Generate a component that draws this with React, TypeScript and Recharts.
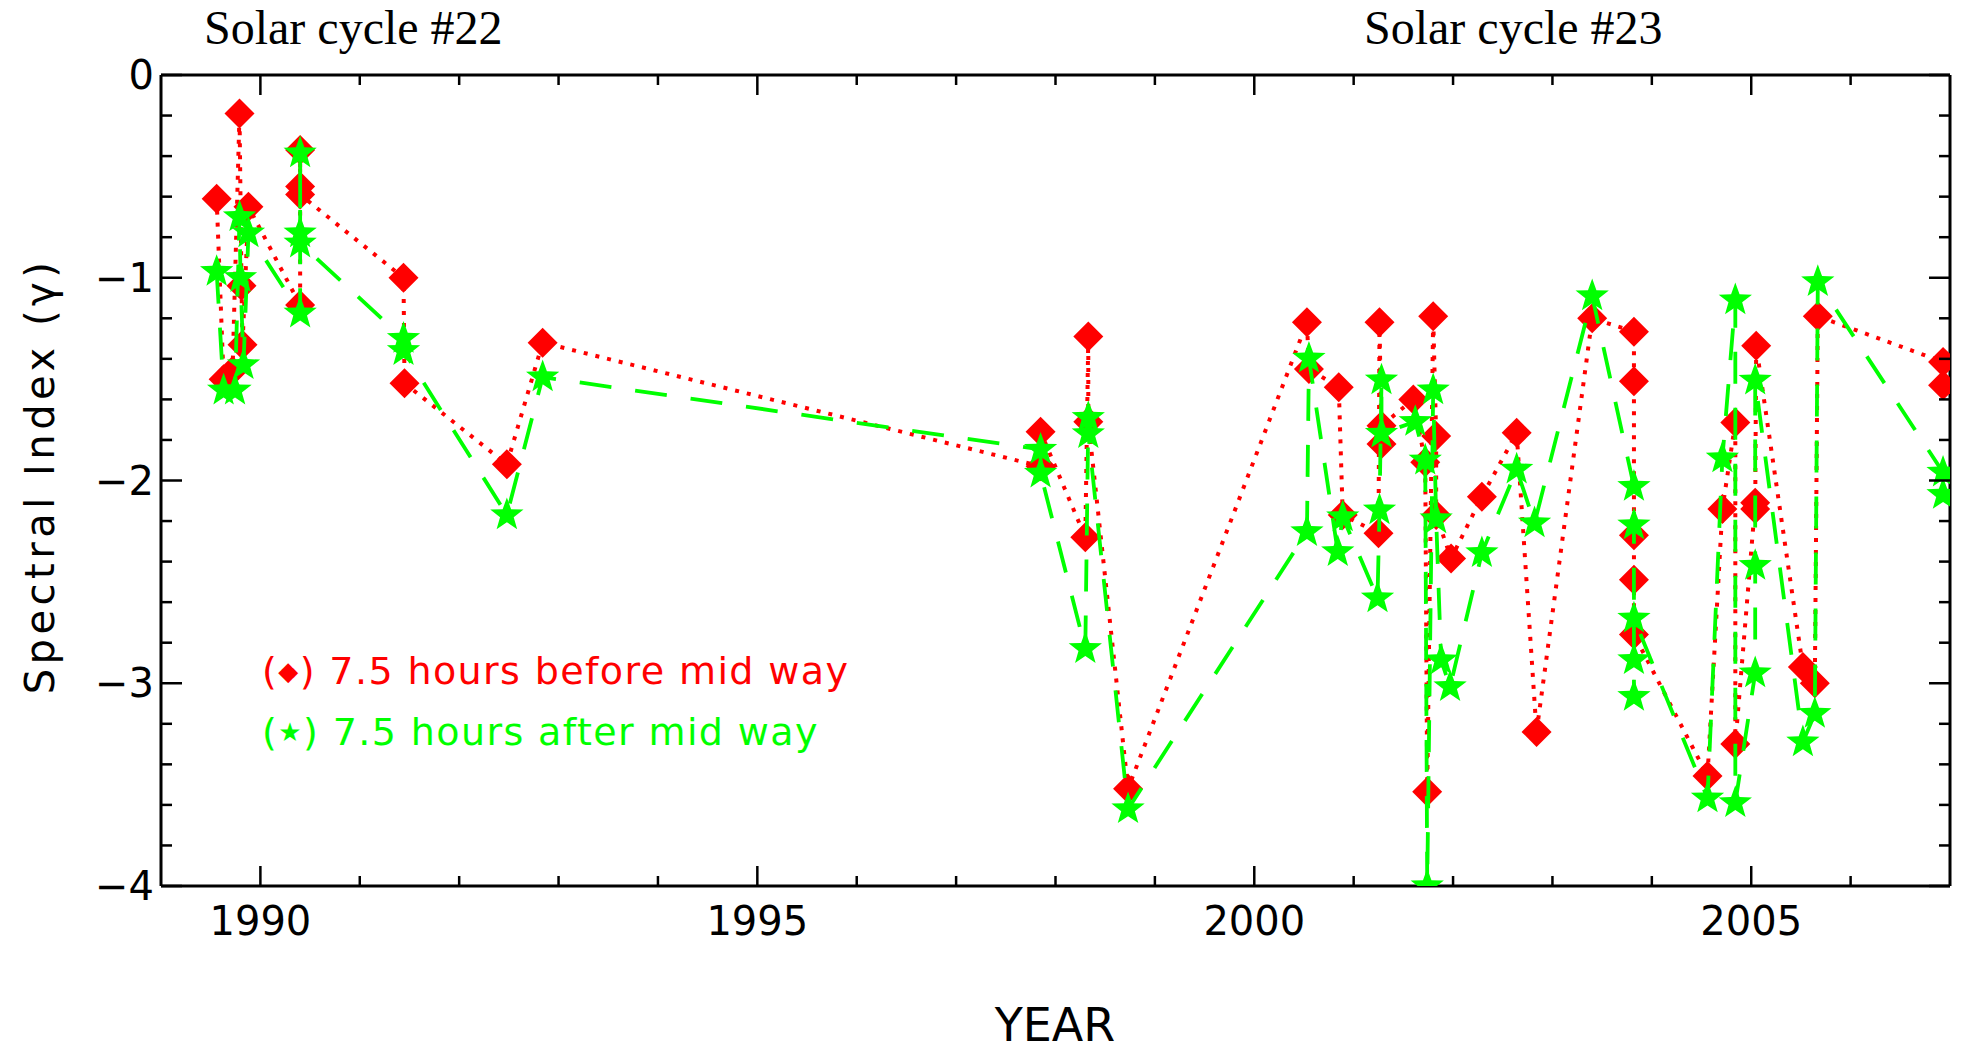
import React from 'react';
import { ScatterChart, Scatter, XAxis, YAxis } from 'recharts';

// ---- data: 7.5 hours before mid way (red diamonds), in plotting order ----
const beforeYears = [
  1989.56, 1989.63, 1989.72, 1989.79, 1989.81, 1989.82, 1989.88,
  1990.40, 1990.40, 1990.40, 1990.40, 1991.44, 1991.45, 1992.48, 1992.84,
  1997.85, 1997.85, 1998.30, 1998.33, 1998.33, 1998.73,
  2000.53, 2000.55, 2000.85, 2000.89, 2001.25, 2001.26, 2001.28, 2001.28,
  2001.60, 2001.72, 2001.74, 2001.80, 2001.83, 2001.83, 2001.98, 2002.29,
  2002.64, 2002.84,
  2003.40, 2003.82, 2003.82, 2003.82, 2003.82, 2003.82, 2004.56, 2004.71,
  2004.84, 2004.84, 2005.04, 2005.04, 2005.05, 2005.52, 2005.64, 2005.67,
  2006.93, 2006.93,
];
const beforeValues = [
  -0.61, -1.50, -1.46, -0.19, -1.04, -1.33, -0.65,
  -1.135, -0.37, -0.55, -0.59, -1.00, -1.52, -1.92, -1.32,
  -1.93, -1.76, -2.28, -1.29, -1.71, -3.52,
  -1.22, -1.45, -1.54, -2.17, -2.26, -1.22, -1.82, -1.73,
  -1.60, -1.91, -3.535, -1.19, -1.78, -2.17, -2.385, -2.08,
  -1.765, -3.24,
  -1.20, -1.266, -1.51, -2.27, -2.49, -2.76, -3.457, -2.14,
  -1.714, -3.30, -2.11, -2.14, -1.336, -2.92, -3.00, -1.19,
  -1.415, -1.53,
];

// ---- data: 7.5 hours after mid way (green stars), in plotting order ----
const afterYears = [
  1989.56, 1989.63, 1989.745, 1989.79, 1989.80, 1989.83, 1989.88,
  1990.40, 1990.40, 1990.40, 1990.40, 1991.44, 1991.44, 1992.48, 1992.84,
  1997.85, 1997.85, 1998.30, 1998.33, 1998.33, 1998.73,
  2000.53, 2000.55, 2000.84, 2000.89, 2001.24, 2001.26, 2001.28, 2001.28,
  2001.62, 2001.72, 2001.74, 2001.80, 2001.83, 2001.88, 2001.97, 2002.29,
  2002.64, 2002.82,
  2003.40, 2003.82, 2003.82, 2003.82, 2003.82, 2003.82, 2004.56, 2004.71,
  2004.84, 2004.84, 2005.04, 2005.04, 2005.04, 2005.52, 2005.64, 2005.67,
  2006.93, 2006.93,
];
const afterValues = [
  -0.97, -1.555, -1.555, -0.70, -1.00, -1.43, -0.78,
  -1.175, -0.385, -0.78, -0.83, -1.30, -1.36, -2.17, -1.49,
  -1.847, -1.965, -2.83, -1.69, -1.77, -3.62,
  -2.253, -1.398, -2.352, -2.18, -2.58, -2.146, -1.505, -1.768,
  -1.71, -1.90, -4.0, -1.554, -2.19, -2.886, -3.018, -2.357,
  -1.945, -2.21,
  -1.09, -2.03, -2.22, -2.885, -3.066, -2.68, -3.567, -1.89,
  -1.11, -3.59, -2.95, -2.42, -1.506, -3.29, -3.15, -1.02,
  -1.96, -2.07,
];

// ---- axes ----
const xDomain = [1989, 2007];
const xTicks = [1990, 1991, 1992, 1993, 1994, 1995, 1996, 1997, 1998, 1999, 2000, 2001, 2002, 2003, 2004, 2005, 2006];
const xLabelTicks = [1990, 1995, 2000, 2005];
const yDomain = [-4, 0];
const yTicks = [0, -0.2, -0.4, -0.6, -0.8, -1, -1.2, -1.4, -1.6, -1.8, -2, -2.2, -2.4, -2.6, -2.8, -3, -3.2, -3.4, -3.6, -3.8, -4];
const yLabelTicks = [0, -1, -2, -3, -4];

const titles = [
  { text: 'Solar cycle #22', x: 204 },
  { text: 'Solar cycle #23', x: 1364 },
];
const legendItems = [
  { symbol: '◆', text: '7.5 hours before mid way', color: '#ff0000' },
  { symbol: '★', text: '7.5 hours after mid way', color: '#00ff00' },
];

const beforeData = beforeYears.map((x, i) => ({ x, y: beforeValues[i] }));
const afterData = afterYears.map((x, i) => ({ x, y: afterValues[i] }));

const RED = '#ff0000';
const GREEN = '#00ff00';
const TICK_FONT = '"DejaVu Sans", sans-serif';

const isIn = (arr: number[], v: number) => arr.some((a) => Math.abs(a - v) < 1e-6);
const fmtY = (v: number) => (v < 0 ? `\u2212${Math.abs(Math.round(v))}` : `${Math.round(v)}`);

const Diamond = (props: any) => {
  const { cx, cy } = props;
  if (cx == null || cy == null) return null;
  const r = 15;
  return <path d={`M${cx},${cy - r}L${cx + r},${cy}L${cx},${cy + r}L${cx - r},${cy}Z`} fill={RED} />;
};

const Star = (props: any) => {
  const { cx, cy } = props;
  if (cx == null || cy == null) return null;
  const R = 17.5;
  const r = 7.2;
  const pts: string[] = [];
  for (let i = 0; i < 10; i++) {
    const ang = -Math.PI / 2 + (i * Math.PI) / 5;
    const rad = i % 2 === 0 ? R : r;
    pts.push(`${(cx + rad * Math.cos(ang)).toFixed(2)},${(cy + rad * Math.sin(ang)).toFixed(2)}`);
  }
  return <polygon points={pts.join(' ')} fill={GREEN} />;
};

const BottomTick = (props: any) => {
  const { x, y, payload } = props;
  const v = payload.value;
  const major = isIn(xLabelTicks, v);
  return (
    <g>
      <line x1={x} y1={y} x2={x} y2={y - (major ? 20 : 10)} stroke="#000" strokeWidth={2.5} />
      {major && (
        <text x={x} y={y + 49} textAnchor="middle" fontFamily={TICK_FONT} fontSize={40} fill="#000">
          {v}
        </text>
      )}
    </g>
  );
};

const TopTick = (props: any) => {
  const { x, y, payload } = props;
  const major = isIn(xLabelTicks, payload.value);
  return <line x1={x} y1={y} x2={x} y2={y + (major ? 20 : 10)} stroke="#000" strokeWidth={2.5} />;
};

const LeftTick = (props: any) => {
  const { x, y, payload } = props;
  const v = payload.value;
  const major = isIn(yLabelTicks, v);
  return (
    <g>
      <line x1={x} y1={y} x2={x + (major ? 21 : 11)} y2={y} stroke="#000" strokeWidth={2.5} />
      {major && (
        <text x={x - 7} y={y + 14} textAnchor="end" fontFamily={TICK_FONT} fontSize={40} fill="#000">
          {fmtY(v)}
        </text>
      )}
    </g>
  );
};

const RightTick = (props: any) => {
  const { x, y, payload } = props;
  const major = isIn(yLabelTicks, payload.value);
  return <line x1={x} y1={y} x2={x - (major ? 21 : 11)} y2={y} stroke="#000" strokeWidth={2.5} />;
};

const axisLine = { stroke: '#000', strokeWidth: 3 };

export default function App() {
  return (
    <div style={{ position: 'absolute', left: 0, top: 0, width: 1966, height: 1051, background: '#fff' }}>
      <ScatterChart width={1966} height={1051} margin={{ top: 0, right: 0, bottom: 0, left: 0 }}>
        <XAxis
          xAxisId="b"
          type="number"
          dataKey="x"
          domain={xDomain}
          ticks={xTicks}
          interval={0}
          height={165}
          tickSize={0}
          tickMargin={0}
          tickLine={false}
          axisLine={axisLine}
          tick={<BottomTick />}
          allowDataOverflow
        />
        <XAxis
          xAxisId="t"
          orientation="top"
          type="number"
          dataKey="x"
          domain={xDomain}
          ticks={xTicks}
          interval={0}
          height={75}
          tickSize={0}
          tickMargin={0}
          tickLine={false}
          axisLine={axisLine}
          tick={<TopTick />}
          allowDataOverflow
        />
        <YAxis
          yAxisId="l"
          type="number"
          dataKey="y"
          domain={yDomain}
          ticks={yTicks}
          interval={0}
          width={161}
          tickSize={0}
          tickMargin={0}
          tickLine={false}
          axisLine={axisLine}
          tick={<LeftTick />}
          allowDataOverflow
        />
        <YAxis
          yAxisId="r"
          orientation="right"
          type="number"
          dataKey="y"
          domain={yDomain}
          ticks={yTicks}
          interval={0}
          width={16}
          tickSize={0}
          tickMargin={0}
          tickLine={false}
          axisLine={axisLine}
          tick={<RightTick />}
          allowDataOverflow
        />
        <Scatter
          name="7.5 hours before mid way"
          data={beforeData}
          xAxisId="b"
          yAxisId="l"
          fill={RED}
          shape={<Diamond />}
          line={{ stroke: RED, strokeWidth: 4, strokeDasharray: '4 8', fill: 'none' }}
          lineType="joint"
          isAnimationActive={false}
        />
        <Scatter
          name="7.5 hours after mid way"
          data={afterData}
          xAxisId="b"
          yAxisId="l"
          fill={GREEN}
          shape={<Star />}
          line={{ stroke: GREEN, strokeWidth: 3.8, strokeDasharray: '32 24', fill: 'none' }}
          lineType="joint"
          isAnimationActive={false}
        />
      </ScatterChart>
      <svg
        width={1966}
        height={1051}
        style={{ position: 'absolute', left: 0, top: 0, pointerEvents: 'none' }}
      >
        {titles.map((t) => (
          <text key={t.text} x={t.x} y={44} fontFamily='"Liberation Serif", "Times New Roman", serif' fontSize={48} fill="#000">
            {t.text}
          </text>
        ))}
        {legendItems.map((it, i) => (
          <text
            key={it.text}
            x={262}
            y={684 + i * 61}
            fontFamily={TICK_FONT}
            fontSize={38}
            fill={it.color}
            style={{ letterSpacing: 1.4 }}
          >
            <tspan>(</tspan>
            <tspan fontSize={26} dy={-4}>{it.symbol}</tspan>
            <tspan dy={4}>) {it.text}</tspan>
          </text>
        ))}
        <text x={1055} y={1041} textAnchor="middle" fontFamily={TICK_FONT} fontSize={46} fill="#000">
          YEAR
        </text>
        <text
          x={54}
          y={476}
          textAnchor="middle"
          fontFamily={TICK_FONT}
          fontSize={40}
          fill="#000"
          transform="rotate(-90 54 476)"
          style={{ letterSpacing: 4.5 }}
        >
          Spectral Index (γ)
        </text>
      </svg>
    </div>
  );
}
